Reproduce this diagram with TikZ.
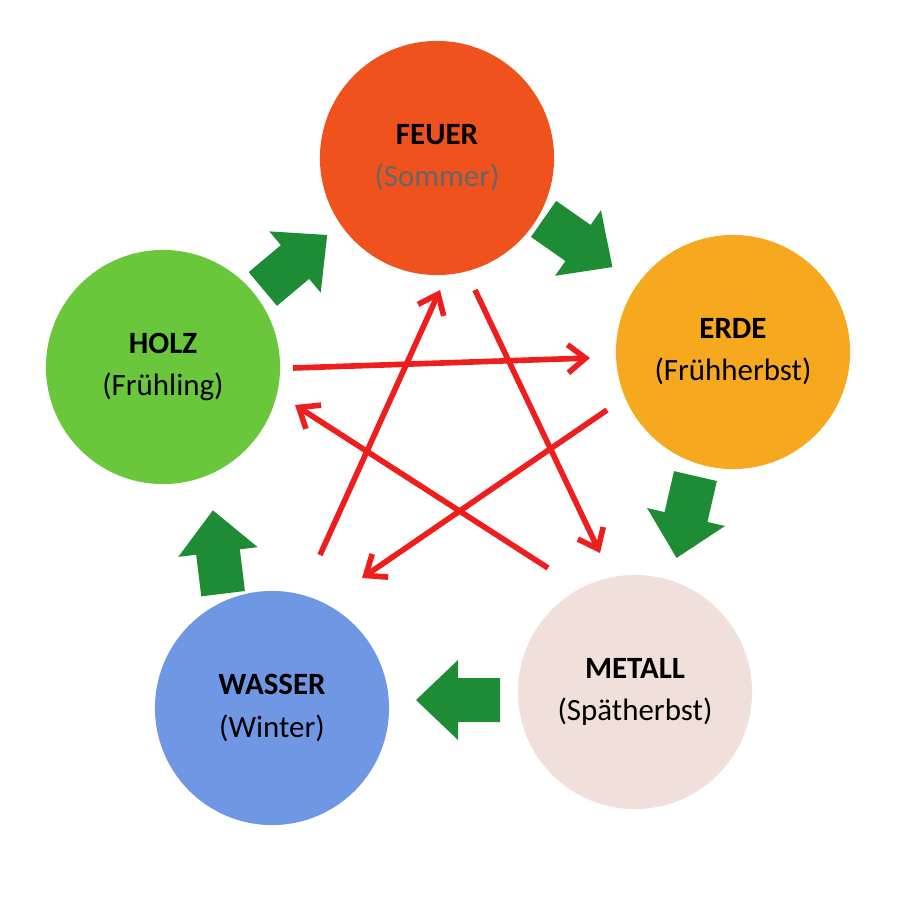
\documentclass[tikz,border=0pt]{standalone}
\usepackage{fontspec}
\setsansfont{Carlito}
\usetikzlibrary{arrows.meta}

\definecolor{feuerc}{HTML}{F0521E}
\definecolor{erdec}{HTML}{F6A91F}
\definecolor{metallc}{HTML}{F0DFDA}
\definecolor{wasserc}{HTML}{7097E4}
\definecolor{holzc}{HTML}{6AC63A}
\definecolor{arrgreen}{HTML}{1E8C34}
\definecolor{starred}{HTML}{EE1E1E}

\begin{document}
\begin{tikzpicture}[
    x=0.01cm, y=-0.01cm,
    element/.style={circle, minimum size=2.34cm, inner sep=0pt, align=center, font=\sffamily\fontsize{8.8}{11}\selectfont},
    starline/.style={draw=starred, line width=1.6pt, -{Straight Barb[length=5pt,width=8pt]}},
    blockarrow/.pic={\fill[arrgreen] (-42,-22) -- (0,-22) -- (0,-40) -- (42,0) -- (0,40) -- (0,22) -- (-42,22) -- cycle;}
]
\useasboundingbox (0,0) rectangle (900,900);
\fill[white] (0,0) rectangle (900,900);

% Elements
\node[element, fill=feuerc] (feuer) at (437,158) {\textbf{FEUER}\\[1pt]\textcolor{black!60}{(Sommer)}};
\node[element, fill=erdec] (erde) at (733,352) {\textbf{ERDE}\\[1pt](Frühherbst)};
\node[element, fill=metallc] (metall) at (635,692) {\textbf{METALL}\\[1pt](Spätherbst)};
\node[element, fill=wasserc] (wasser) at (272,708) {\textbf{WASSER}\\[1pt](Winter)};
\node[element, fill=holzc] (holz) at (163,367) {\textbf{HOLZ}\\[1pt](Frühling)};

% Nourishing cycle
\pic[rotate=40] at (295,262) {blockarrow};
\pic[rotate=-35] at (578,243) {blockarrow};
\pic[rotate=-103] at (686,517) {blockarrow};
\pic[rotate=180] at (458,700) {blockarrow};
\pic[rotate=97] at (218,552) {blockarrow};

% Control cycle
\coordinate (h1) at (293,368);
\coordinate (e1) at (590,358);
\coordinate (e2) at (607,410);
\coordinate (w2) at (362,578);
\coordinate (w3) at (320,555);
\coordinate (f3) at (440,290);
\coordinate (f4) at (475,290);
\coordinate (m4) at (600,553);
\coordinate (m5) at (548,568);
\coordinate (h5) at (295,405);
\draw[starline] (h1) -- (e1);
\draw[starline] (e2) -- (w2);
\draw[starline] (w3) -- (f3);
\draw[starline] (f4) -- (m4);
\draw[starline] (m5) -- (h5);

\end{tikzpicture}
\end{document}
